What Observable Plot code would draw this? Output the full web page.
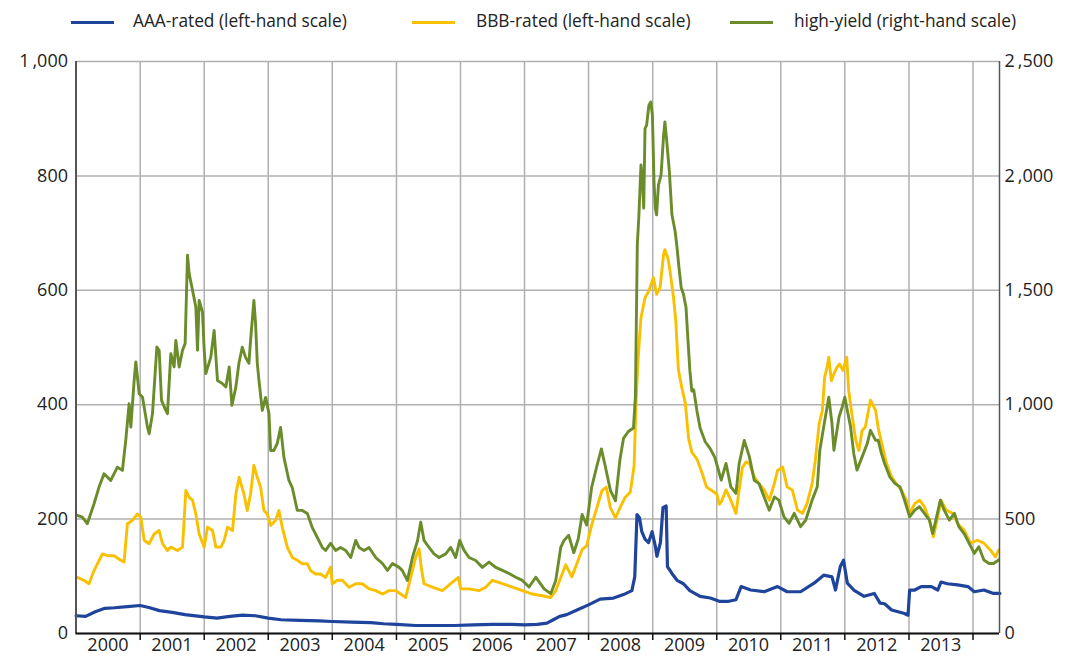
<!DOCTYPE html>
<html><head><meta charset="utf-8">
<script src="https://cdn.jsdelivr.net/npm/d3@7"></script>
<script src="https://cdn.jsdelivr.net/npm/@observablehq/plot@0.6"></script>
<style>
body{margin:0;background:#fff;font-family:"Open Sans",sans-serif;color:#222}
#wrap{position:relative;width:1067px;height:663px;overflow:hidden}
#legend{position:relative;height:40px}
.sw{position:absolute;top:21px;height:3px;width:43px}
.lt{position:absolute;top:9px;font-size:17.3px;line-height:24px;white-space:nowrap;color:#222}
</style></head><body>
<div id="wrap"><div id="legend"></div><div id="chart"></div></div>
<script>
// ---- data (decimal years, values in basis points) ----
const aaaYear = [2000.0,2000.15,2000.3,2000.45,2000.6,2000.8,2001.0,2001.15,2001.3,2001.5,2001.7,2002.0,2002.2,2002.4,2002.6,2002.8,2003.0,2003.2,2003.5,2003.8,2004.0,2004.3,2004.6,2004.8,2005.0,2005.3,2005.6,2005.9,2006.2,2006.5,2006.8,2007.0,2007.2,2007.35,2007.45,2007.55,2007.66,2007.82,2008.0,2008.18,2008.39,2008.545,2008.675,2008.72,2008.755,2008.795,2008.83,2008.88,2008.935,2008.99,2009.04,2009.065,2009.12,2009.16,2009.21,2009.23,2009.3,2009.38,2009.48,2009.58,2009.74,2009.9,2010.05,2010.17,2010.3,2010.38,2010.53,2010.74,2010.95,2011.1,2011.31,2011.52,2011.67,2011.8,2011.855,2011.93,2011.98,2012.04,2012.14,2012.3,2012.46,2012.55,2012.62,2012.73,2012.83,2012.93,2012.985,2013.01,2013.09,2013.19,2013.35,2013.45,2013.5,2013.6,2013.76,2013.92,2014.02,2014.17,2014.32,2014.42];
const aaaValue = [31,30,38,44,45,47,49,45,40,37,33,29,27,30,32,31,27,24,23,22,21,20,19,17,16,14,14,14,15,16,16,15,16,18,24,30,33,41,50,60,62,68,75,99,208,202,178,165,159,178,153,135,159,220,223,117,105,93,87,75,65,62,56,56,59,82,76,73,82,73,73,88,102,99,76,117,128,88,76,65,70,53,52,41,38,35,32,76,76,82,82,76,90,87,85,82,73,76,70,70];

const bbbYear = [2000.02,2000.124,2000.202,2000.281,2000.411,2000.489,2000.593,2000.697,2000.749,2000.801,2000.88,2000.958,2001.01,2001.062,2001.14,2001.218,2001.296,2001.348,2001.426,2001.478,2001.583,2001.661,2001.713,2001.765,2001.817,2001.869,2001.921,2002.0,2002.051,2002.13,2002.182,2002.26,2002.312,2002.364,2002.442,2002.494,2002.546,2002.62,2002.672,2002.724,2002.776,2002.829,2002.88,2002.933,2002.985,2003.037,2003.115,2003.167,2003.219,2003.297,2003.375,2003.454,2003.532,2003.61,2003.662,2003.74,2003.818,2003.896,2003.974,2004.0,2004.079,2004.157,2004.261,2004.365,2004.469,2004.573,2004.677,2004.782,2004.886,2004.99,2005.066,2005.144,2005.222,2005.3,2005.353,2005.394,2005.43,2005.56,2005.717,2005.847,2005.967,2006.004,2006.134,2006.29,2006.394,2006.498,2006.655,2006.811,2006.967,2007.123,2007.28,2007.41,2007.488,2007.566,2007.644,2007.74,2007.82,2007.9,2007.97,2008.05,2008.13,2008.21,2008.275,2008.34,2008.42,2008.49,2008.57,2008.65,2008.71,2008.74,2008.77,2008.805,2008.817,2008.88,2008.94,2009.01,2009.06,2009.115,2009.17,2009.19,2009.235,2009.27,2009.325,2009.36,2009.4,2009.45,2009.51,2009.56,2009.61,2009.69,2009.77,2009.84,2009.92,2010.0,2010.04,2010.07,2010.145,2010.22,2010.3,2010.35,2010.4,2010.46,2010.51,2010.585,2010.66,2010.74,2010.82,2010.9,2010.95,2011.03,2011.1,2011.18,2011.26,2011.34,2011.41,2011.49,2011.54,2011.6,2011.65,2011.685,2011.725,2011.75,2011.79,2011.83,2011.88,2011.92,2011.97,2012.03,2012.06,2012.11,2012.17,2012.22,2012.27,2012.32,2012.4,2012.48,2012.52,2012.57,2012.65,2012.73,2012.8,2012.88,2012.96,2013.01,2013.09,2013.165,2013.24,2013.32,2013.38,2013.45,2013.5,2013.58,2013.68,2013.76,2013.86,2013.96,2014.07,2014.17,2014.27,2014.35,2014.4];
const bbbValue = [98,93,87,110,139,136,136,128,125,192,198,209,203,163,157,174,180,157,145,151,145,151,250,238,233,209,174,151,186,180,151,151,163,186,180,244,273,244,215,244,294,273,256,215,209,189,198,215,186,151,133,128,122,122,110,104,104,98,116,87,93,93,81,87,87,78,75,69,75,75,69,63,98,133,148,110,87,81,75,87,98,78,78,75,81,93,87,81,75,69,66,63,75,98,120,99,123,147,153,190,220,250,256,220,202,220,238,247,293,402,475,535,552,587,599,622,593,605,663,671,657,634,587,547,462,432,402,341,317,305,281,256,250,244,226,230,251,233,210,251,290,300,297,274,262,251,233,262,285,291,256,251,216,210,227,262,303,367,390,448,466,483,442,454,466,471,460,483,425,384,338,320,355,361,408,390,360,335,297,274,262,251,233,210,227,233,222,198,169,204,233,216,210,192,181,158,163,158,146,134,146];

const hyYear = [2000.02,2000.098,2000.176,2000.281,2000.359,2000.437,2000.541,2000.645,2000.723,2000.775,2000.827,2000.854,2000.906,2000.932,2000.984,2001.036,2001.114,2001.14,2001.192,2001.26,2001.296,2001.333,2001.4,2001.426,2001.478,2001.53,2001.557,2001.609,2001.661,2001.702,2001.739,2001.765,2001.817,2001.869,2001.895,2001.921,2001.973,2002.0,2002.025,2002.103,2002.155,2002.207,2002.286,2002.338,2002.39,2002.432,2002.494,2002.542,2002.594,2002.646,2002.698,2002.724,2002.776,2002.802,2002.829,2002.855,2002.907,2002.959,2003.011,2003.037,2003.089,2003.141,2003.193,2003.245,2003.323,2003.375,2003.454,2003.532,2003.61,2003.688,2003.766,2003.844,2003.896,2003.974,2004.052,2004.13,2004.209,2004.287,2004.365,2004.417,2004.495,2004.573,2004.677,2004.782,2004.86,2004.938,2005.042,2005.09,2005.17,2005.25,2005.33,2005.379,2005.43,2005.509,2005.587,2005.665,2005.77,2005.847,2005.925,2005.988,2006.056,2006.134,2006.238,2006.342,2006.446,2006.55,2006.655,2006.759,2006.863,2006.967,2007.071,2007.175,2007.306,2007.41,2007.488,2007.566,2007.618,2007.69,2007.77,2007.84,2007.9,2007.97,2008.05,2008.13,2008.2,2008.26,2008.34,2008.42,2008.49,2008.545,2008.62,2008.7,2008.73,2008.76,2008.785,2008.817,2008.84,2008.86,2008.88,2008.905,2008.94,2008.97,2008.995,2009.02,2009.04,2009.06,2009.09,2009.13,2009.17,2009.19,2009.22,2009.26,2009.3,2009.35,2009.38,2009.41,2009.445,2009.48,2009.52,2009.54,2009.58,2009.61,2009.64,2009.69,2009.74,2009.82,2009.9,2009.97,2010.02,2010.07,2010.145,2010.22,2010.3,2010.35,2010.43,2010.51,2010.585,2010.66,2010.74,2010.82,2010.9,2010.97,2011.05,2011.13,2011.21,2011.31,2011.39,2011.49,2011.57,2011.61,2011.67,2011.75,2011.8,2011.83,2011.91,2011.96,2012.0,2012.04,2012.09,2012.14,2012.19,2012.27,2012.35,2012.4,2012.48,2012.52,2012.57,2012.62,2012.7,2012.78,2012.86,2012.93,2013.01,2013.09,2013.165,2013.24,2013.32,2013.37,2013.42,2013.49,2013.55,2013.63,2013.71,2013.78,2013.86,2013.94,2014.02,2014.09,2014.17,2014.25,2014.32,2014.4];
const hyValue = [516,509,480,567,640,698,669,727,713,844,1004,902,1106,1187,1048,1033,902,873,961,1252,1238,1019,975,961,1223,1165,1281,1165,1238,1267,1653,1573,1500,1427,1238,1456,1405,1238,1136,1208,1325,1106,1092,1077,1165,997,1077,1181,1251,1207,1181,1281,1456,1356,1181,1106,975,1032,962,800,800,831,901,770,669,638,538,538,525,463,420,376,363,394,363,376,363,332,407,376,363,376,332,306,276,306,289,276,232,332,407,487,407,376,348,332,348,376,332,407,363,332,319,289,312,289,276,262,246,232,203,246,195,174,232,376,407,429,353,414,520,474,641,732,807,732,626,580,762,853,883,898,1035,1700,1830,2048,1975,1859,2207,2222,2309,2323,2265,1975,1859,1830,1961,2004,2178,2236,2149,2019,1830,1758,1686,1599,1512,1483,1425,1330,1150,1060,1065,974,898,838,807,770,720,670,743,641,612,743,844,772,670,655,597,539,597,583,510,481,525,467,496,583,641,801,903,1033,917,801,946,990,1033,975,903,786,714,772,830,888,844,845,787,743,685,656,641,583,510,539,554,525,496,437,496,583,539,496,525,466,437,394,350,379,321,306,306,321];

const seriesNames = ["AAA-rated (left-hand scale)", "BBB-rated (left-hand scale)", "high-yield (right-hand scale)"];
const seriesColors = ["#1f449c", "#f9c000", "#6b8c2a"];
const leftTicks = [0, 200, 400, 600, 800, 1000];
const rightFactor = 2.5;
const yearLabels = d3.range(2000, 2014);

// ---- helpers ----
function toDate(t) {
  const y = Math.floor(t), f = t - y;
  const a = Date.UTC(y, 0, 1), b = Date.UTC(y + 1, 0, 1);
  return new Date(a + f * (b - a));
}
const rows = (years, values, k) => years.map((t, i) => ({date: toDate(t), value: values[i] / k}));
const aaa = rows(aaaYear, aaaValue, 1);
const bbb = rows(bbbYear, bbbValue, 1);
const hy = rows(hyYear, hyValue, rightFactor);

const x0 = new Date(Date.UTC(2000, 0, 1));
const x1 = new Date(Date.UTC(2014, 5, 1));
const yearBounds = d3.range(2001, 2015).map(y => new Date(Date.UTC(y, 0, 1)));
const midYears = yearLabels.map(y => new Date(Date.UTC(y, 6, 1)));
const fmt = d3.format(",");

// ---- legend ----
const legend = document.getElementById("legend");
const legendPos = [[71, 133], [412, 476], [730, 794]];
seriesNames.forEach((n, i) => {
  const s = document.createElement("div");
  s.className = "sw"; s.style.left = legendPos[i][0] + "px"; s.style.background = seriesColors[i];
  legend.appendChild(s);
  const t = document.createElement("div");
  t.className = "lt"; t.style.left = legendPos[i][1] + "px"; t.textContent = n;
  legend.appendChild(t);
});

// ---- chart ----
const chart = Plot.plot({
  width: 1067, height: 623,
  marginTop: 21, marginBottom: 30, marginLeft: 75.5, marginRight: 68,
  style: {fontFamily: "'Open Sans', sans-serif", fontSize: "18px", color: "#222", background: "#fff"},
  x: {type: "utc", domain: [x0, x1], label: null},
  y: {domain: [0, 1000], label: null},
  marks: [
    Plot.gridY(leftTicks, {stroke: "#b0b0b0", strokeOpacity: 1, strokeWidth: 1.5}),
    Plot.gridX(yearBounds, {stroke: "#b0b0b0", strokeOpacity: 1, strokeWidth: 1.5}),
    Plot.line(aaa, {x: "date", y: "value", stroke: seriesColors[0], strokeWidth: 3.2}),
    Plot.line(bbb, {x: "date", y: "value", stroke: seriesColors[1], strokeWidth: 2.9}),
    Plot.line(hy, {x: "date", y: "value", stroke: seriesColors[2], strokeWidth: 2.9}),
    Plot.ruleX([x0], {stroke: "#555", strokeWidth: 2}),
    Plot.ruleX([x1], {stroke: "#555", strokeWidth: 1.5}),
    Plot.ruleY([0], {stroke: "#111", strokeWidth: 2}),
    Plot.axisX(yearBounds, {tickSize: 7, tickFormat: () => "", stroke: "#111", strokeWidth: 1.5}),
    Plot.axisX(midYears, {tickSize: 0, tickPadding: 5, tickFormat: d => String(d.getUTCFullYear()), fill: "#222"}),
    Plot.axisY(leftTicks, {anchor: "left", tickSize: 0, tickPadding: 8, tickFormat: d => fmt(d).replace(",", "\u2009,"), fill: "#222"}),
    Plot.axisY(leftTicks, {anchor: "right", tickSize: 0, tickPadding: 5, tickFormat: d => fmt(d * rightFactor).replace(",", "\u2009,"), fill: "#222"})
  ]
});
document.getElementById("chart").appendChild(chart);
</script>
</body></html>
